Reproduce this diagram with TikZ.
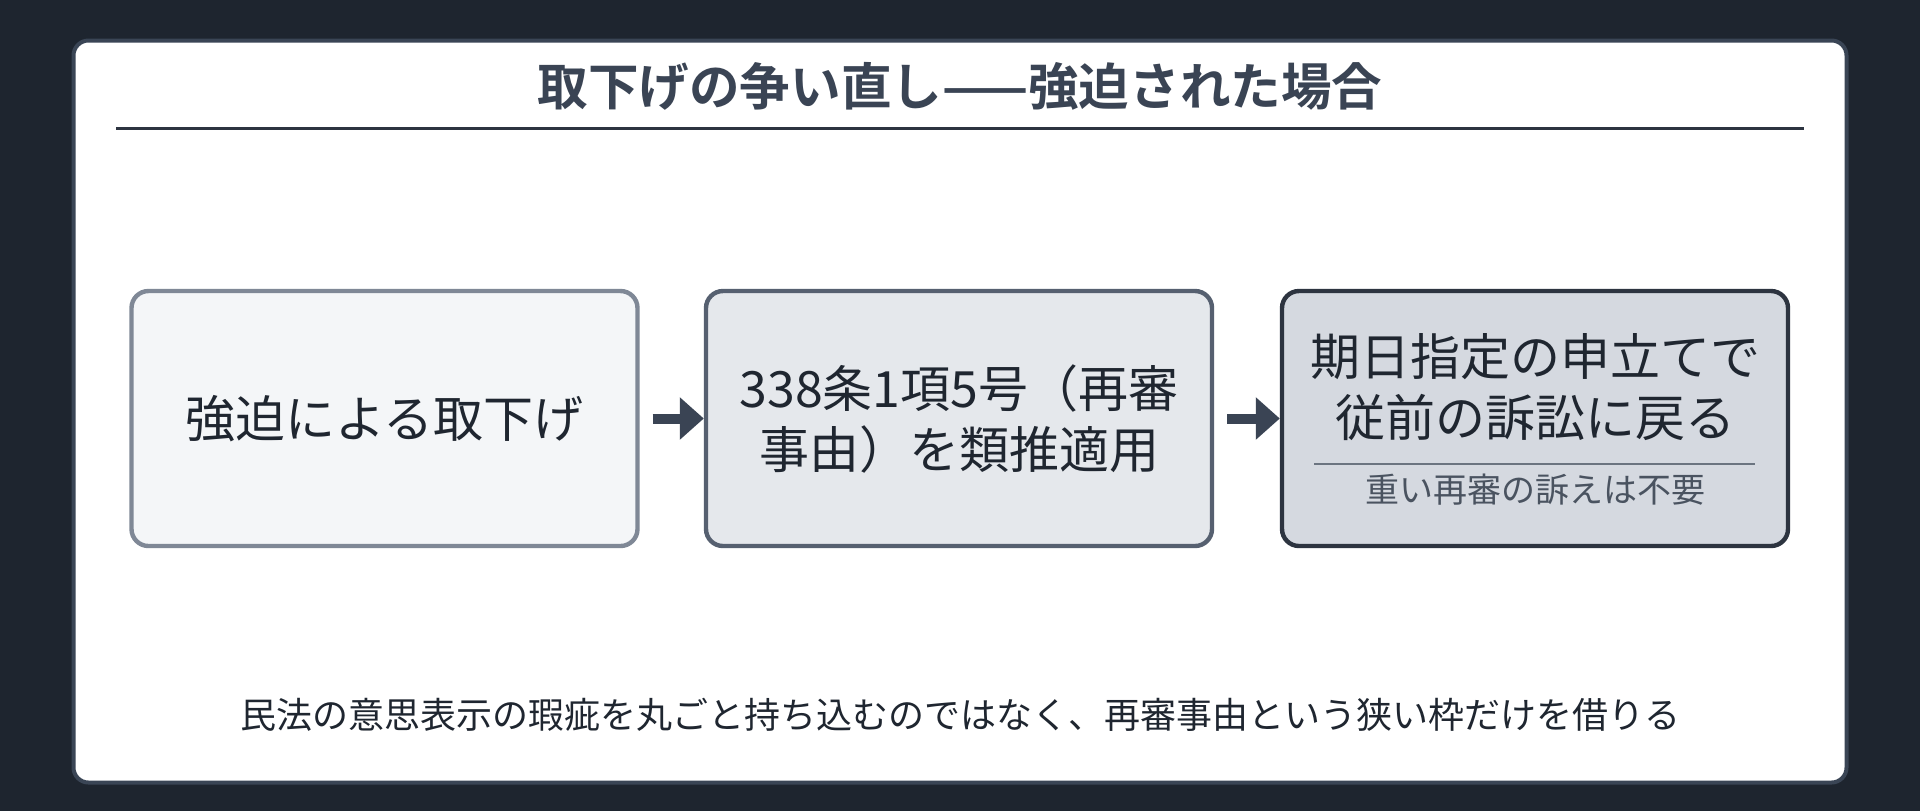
\documentclass[tikz,border=0pt]{standalone}
\usepackage{fontspec}
\setmainfont{Noto Sans CJK JP}
\newfontfamily\jpbold{Noto Sans CJK JP Bold}
\usetikzlibrary{arrows.meta}
\definecolor{bgdark}{HTML}{1E252F}
\definecolor{panelline}{HTML}{3A4555}
\definecolor{titleink}{HTML}{3A4454}
\definecolor{ink}{HTML}{1F2630}
\definecolor{fillA}{HTML}{F4F6F8}
\definecolor{lineA}{HTML}{7F8896}
\definecolor{fillB}{HTML}{E5E8EC}
\definecolor{lineB}{HTML}{566070}
\definecolor{fillC}{HTML}{D5D9E0}
\definecolor{lineC}{HTML}{2D3440}
\definecolor{subline}{HTML}{6B7480}
\definecolor{subink}{HTML}{4A5360}

\begin{document}
\begin{tikzpicture}[x=0.5pt,y=-0.5pt,
  stagebox/.style={draw,line width=2.2pt,rounded corners=8.5pt,minimum width=253pt,minimum height=127.5pt,align=center,text=ink,font=\fontsize{25}{30.5}\selectfont},
  flowarrow/.style={draw=titleink,line width=5pt,-{Triangle[length=12pt,width=20.5pt]}}]
 \fill[bgdark](0,0) rectangle (1920,811); 
 \useasboundingbox (0,0) rectangle (1920,811);
 \draw[panelline,fill=white,line width=2pt,rounded corners=7.5pt](73.5,40.5) rectangle (1846.5,782.5); 
 % title
 \node[text=titleink,font=\jpbold\fontsize{25.3}{30}\selectfont] (title) at (960,86) {取下げの争い直し——強迫された場合};
 \draw[lineC,line width=1.5pt](116,128.5)--(1804,128.5); 
 % three stages
 \node[stagebox,fill=fillA,draw=lineA] (coerced) at (384.5,418.5) {強迫による取下げ};
 \node[stagebox,fill=fillB,draw=lineB] (analogy) at (959,418.5) {338条1項5号（再審\\事由）を類推適用};
 \node[stagebox,fill=fillC,draw=lineC] (resume) at (1535,418.5) {};
 \node[text=ink,align=center,font=\fontsize{25}{30.5}\selectfont] (resumetext) at (1535,387) {期日指定の申立てで\\従前の訴訟に戻る};
 \draw[subline,line width=1pt](1314,464)--(1755,464); 
 \node[text=subink,font=\fontsize{17}{20}\selectfont] (resumenote) at (1535,490) {重い再審の訴えは不要};
 % arrows
 \draw[flowarrow](coerced.east)++(13,0) coordinate (a1) -- (analogy.west);
 \draw[flowarrow](analogy.east)++(13,0) coordinate (a2) -- (resume.west);
 % footer
 \node[text=ink,font=\fontsize{18}{22}\selectfont] (footer) at (960,715) {民法の意思表示の瑕疵を丸ごと持ち込むのではなく、再審事由という狭い枠だけを借りる};
\end{tikzpicture}
\end{document}
